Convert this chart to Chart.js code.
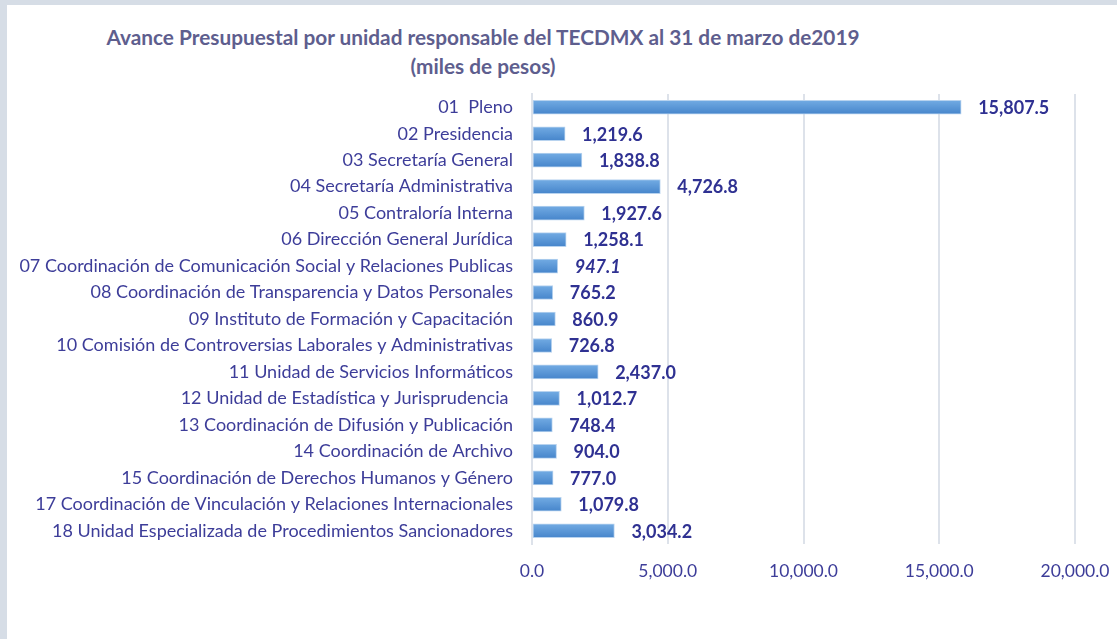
<!DOCTYPE html>
<html>
<head>
<meta charset="utf-8">
<script src="https://cdn.jsdelivr.net/npm/chart.js@4"></script>
<style>
  html, body { margin: 0; padding: 0; }
  body { width: 1117px; height: 639px; background: #d6dde6; position: relative; overflow: hidden; font-family: Lato, sans-serif; }
  .panel { position: absolute; left: 7px; top: 5px; right: 0; bottom: 0; background: #fff; }
  .titulo { position: absolute; left: 0; top: 22px; width: 966px; text-align: center; color: #5e5e8e; font-weight: bold; font-size: 20.8px; line-height: 29px; }
  #chart-wrap { position: absolute; left: 7px; top: 80px; width: 1110px; height: 559px; }
</style>
</head>
<body>
<div class="panel"></div>
<div class="titulo">Avance Presupuestal por unidad responsable del TECDMX al 31 de marzo de2019<br>(miles de pesos)</div>
<div id="chart-wrap"><canvas id="avanceChart"></canvas></div>
<script>
const unidades = [
  '01  Pleno',
  '02 Presidencia',
  '03 Secretaría General',
  '04 Secretaría Administrativa',
  '05 Contraloría Interna',
  '06 Dirección General Jurídica',
  '07 Coordinación de Comunicación Social y Relaciones Publicas',
  '08 Coordinación de Transparencia y Datos Personales',
  '09 Instituto de Formación y Capacitación',
  '10 Comisión de Controversias Laborales y Administrativas',
  '11 Unidad de Servicios Informáticos',
  '12 Unidad de Estadística y Jurisprudencia ',
  '13 Coordinación de Difusión y Publicación',
  '14 Coordinación de Archivo',
  '15 Coordinación de Derechos Humanos y Género',
  '17 Coordinación de Vinculación y Relaciones Internacionales',
  '18 Unidad Especializada de Procedimientos Sancionadores'
];
const avance = [15807.5, 1219.6, 1838.8, 4726.8, 1927.6, 1258.1, 947.1, 765.2, 860.9, 726.8, 2437.0, 1012.7, 748.4, 904.0, 777.0, 1079.8, 3034.2];
const etiquetasCursiva = [6]; // el 947.1 aparece en cursiva
const ticksX = [0, 5000, 10000, 15000, 20000];

const fmt = (v) => v.toLocaleString('en-US', { minimumFractionDigits: 1, maximumFractionDigits: 1 });

// Etiquetas de valor a la derecha de cada barra
const valoresPlugin = {
  id: 'valores',
  afterDatasetsDraw(chart) {
    const { ctx } = chart;
    const meta = chart.getDatasetMeta(0);
    ctx.save();
    ctx.fillStyle = '#2f3192';
    ctx.textBaseline = 'middle';
    ctx.textAlign = 'left';
    meta.data.forEach((bar, i) => {
      const italic = etiquetasCursiva.includes(i) ? 'italic ' : '';
      ctx.font = italic + 'bold 18px Lato, sans-serif';
      ctx.fillText(fmt(avance[i]), bar.x + 17, bar.y + 1);
    });
    ctx.restore();
  }
};

new Chart(document.getElementById('avanceChart'), {
  type: 'bar',
  data: {
    labels: unidades,
    datasets: [{
      data: avance,
      backgroundColor: (c) => {
        const y = c.chart.scales.y;
        const py = y && c.dataIndex !== undefined ? y.getPixelForValue(c.dataIndex) : NaN;
        if (!isFinite(py)) return '#5596d6';
        const g = c.chart.ctx.createLinearGradient(0, py - 7, 0, py + 7);
        g.addColorStop(0, '#72abe3');
        g.addColorStop(1, '#4685cb');
        return g;
      },
      borderColor: '#b8d3ef',
      borderWidth: 1,
      borderSkipped: false,
      barThickness: 14
    }]
  },
  options: {
    indexAxis: 'y',
    responsive: true,
    maintainAspectRatio: false,
    animation: false,
    layout: { padding: { top: 14, right: 42, bottom: 40, left: 0 } },
    plugins: { legend: { display: false }, tooltip: { enabled: false } },
    scales: {
      x: {
        min: 0, max: 20000,
        afterBuildTicks: (s) => { s.ticks = ticksX.map((v) => ({ value: v })); },
        afterFit: (s) => { s.paddingLeft = 0; s.paddingRight = 0; },
        ticks: { color: '#3d3d99', font: { family: 'Lato', size: 17.5 }, padding: 17, callback: (v) => fmt(v) },
        grid: { color: '#dde2ea', lineWidth: 2, drawTicks: false },
        border: { display: false }
      },
      y: {
        afterFit: (s) => { s.width = 525; s.paddingTop = 0; s.paddingBottom = 0; },
        ticks: { color: '#3d3d99', font: { family: 'Lato', size: 18 }, padding: 19, autoSkip: false },
        grid: { display: false, drawTicks: false },
        border: { color: '#dde2ea', width: 2 }
      }
    }
  },
  plugins: [valoresPlugin]
});
</script>
</body>
</html>
